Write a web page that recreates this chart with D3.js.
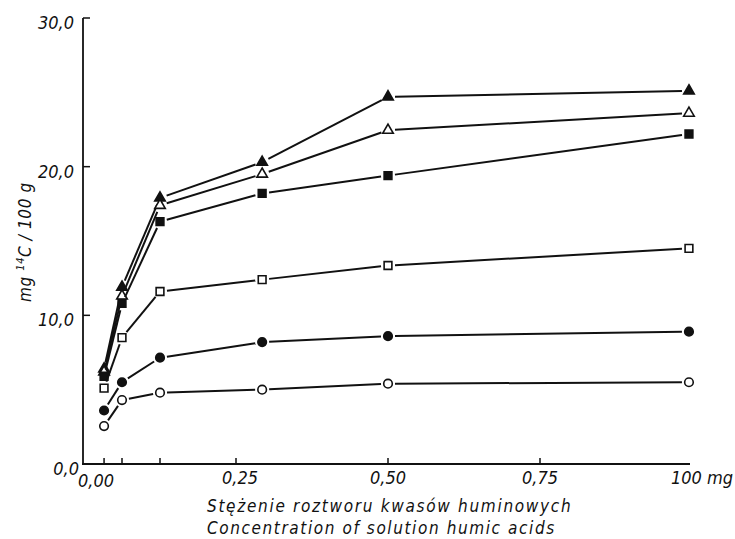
<!DOCTYPE html>
<html>
<head>
<meta charset="utf-8">
<script src="https://cdn.jsdelivr.net/npm/d3@7"></script>
<style>
  body { margin: 0; background: #fff; }
  text { font-family: "DejaVu Sans", sans-serif; font-style: oblique; font-stretch: condensed; fill: #111; }
</style>
</head>
<body>
<div id="chart"></div>
<script>
// concentration of humic acid solution (mg)
const concentrations = [0.033, 0.0625, 0.125, 0.293, 0.5, 0.995];

// mg 14C / 100 g for each series
const filledTriangle = [6.4, 11.9, 17.9, 20.3, 24.7, 25.1];
const openTriangle   = [6.2, 11.3, 17.4, 19.5, 22.45, 23.6];
const filledSquare   = [5.9, 10.8, 16.3, 18.2, 19.4, 22.2];
const openSquare     = [5.1, 8.5, 11.6, 12.4, 13.35, 14.5];
const filledCircle   = [3.6, 5.5, 7.15, 8.2, 8.6, 8.9];
const openCircle     = [2.55, 4.3, 4.8, 5.0, 5.4, 5.5];

const xTicks = [0, 0.25, 0.5, 0.75, 1];
const xTickLabels = ["0,00", "0,25", "0,50", "0,75", "100 mg"];
const yTicks = [0, 10, 20, 30];
const yTickLabels = ["0,0", "10,0", "20,0", "30,0"];

const series = [
    {values: filledTriangle, shape: d3.symbolTriangle, fill: true},
    {values: openTriangle, shape: d3.symbolTriangle, fill: false},
    {values: filledSquare, shape: d3.symbolSquare, fill: true},
    {values: openSquare, shape: d3.symbolSquare, fill: false},
    {values: filledCircle, shape: d3.symbolCircle, fill: true},
    {values: openCircle, shape: d3.symbolCircle, fill: false}
];

const width = 735, height = 539;

const svg = d3.select("#chart").append("svg")
    .attr("width", width)
    .attr("height", height);

const x = d3.scaleLinear().domain([0, 1]).range([84, 692]);
const y = d3.scaleLinear().domain([0, 30]).range([464, 18]);

const axisColor = "#111";

// y axis: vertical line with inward ticks
svg.append("line")
    .attr("x1", x(0) - 1).attr("x2", x(0) - 1)
    .attr("y1", y(0)).attr("y2", y(30))
    .attr("stroke", axisColor).attr("stroke-width", 1.8);

svg.selectAll(".ytick")
    .data(yTicks.slice(1))
    .enter().append("line")
    .attr("x1", x(0) - 1).attr("x2", x(0) + 6)
    .attr("y1", d => y(d)).attr("y2", d => y(d))
    .attr("stroke", axisColor).attr("stroke-width", 1.5);

svg.selectAll(".ylab")
    .data(yTicks)
    .enter().append("text")
    .attr("x", (d, i) => i === 0 ? x(0) - 5 : x(0) - 10)
    .attr("y", d => y(d) + 11)
    .attr("text-anchor", "end")
    .attr("font-size", 18)
    .text((d, i) => yTickLabels[i]);

// x axis
svg.append("line")
    .attr("x1", x(0) - 2).attr("x2", x(1) - 2)
    .attr("y1", y(0)).attr("y2", y(0))
    .attr("stroke", axisColor).attr("stroke-width", 1.8);

svg.selectAll(".xtick")
    .data(xTicks.slice(1, 4).concat(concentrations.slice(0, 3)))
    .enter().append("line")
    .attr("x1", d => x(d)).attr("x2", d => x(d))
    .attr("y1", y(0)).attr("y2", y(0) - 6)
    .attr("stroke", axisColor).attr("stroke-width", 1.5);

svg.selectAll(".xlab")
    .data(xTicks)
    .enter().append("text")
    .attr("x", (d, i) => i === 0 ? x(d) - 6 : i === 4 ? x(d) - 21 : x(d) + (i === 1 ? 4 : 0))
    .attr("y", (d, i) => i === 0 ? 487 : 484)
    .attr("text-anchor", (d, i) => i === 0 ? "start" : i === 4 ? "start" : "middle")
    .attr("font-size", 18)
    .text((d, i) => xTickLabels[i]);

// axis titles
svg.append("text")
    .attr("x", 207).attr("y", 512)
    .attr("font-size", 17)
    .attr("letter-spacing", 1.7)
    .text("Stężenie roztworu kwasów huminowych");

svg.append("text")
    .attr("x", 207).attr("y", 534)
    .attr("font-size", 17)
    .attr("letter-spacing", 1.6)
    .text("Concentration of solution humic acids");

const yTitle = svg.append("text")
    .attr("transform", "translate(31, 302) rotate(-90)")
    .attr("font-size", 17)
    .attr("letter-spacing", 0.6);
yTitle.append("tspan").text("mg ");
yTitle.append("tspan").attr("font-size", 11).attr("dy", -7).text("14");
yTitle.append("tspan").attr("dy", 7).text("C / 100 g");

// series lines, broken just before each marker
const gap = 7;
series.forEach(s => {
    const pts = s.values.map((v, i) => [x(concentrations[i]), y(v)]);
    const segs = d3.pairs(pts).map(([a, b]) => {
        const dx = b[0] - a[0], dy = b[1] - a[1];
        const len = Math.hypot(dx, dy);
        const ux = dx / len, uy = dy / len;
        return [a[0] + ux * gap, a[1] + uy * gap, b[0] - ux * gap, b[1] - uy * gap];
    });
    svg.append("g").selectAll("line")
        .data(segs)
        .enter().append("line")
        .attr("x1", d => d[0]).attr("y1", d => d[1])
        .attr("x2", d => d[2]).attr("y2", d => d[3])
        .attr("stroke", "#111")
        .attr("stroke-width", 2);

    const symbolSize = s.shape === d3.symbolTriangle ? 48 : s.shape === d3.symbolSquare ? 60 : 58;
    svg.append("g").selectAll("path")
        .data(pts)
        .enter().append("path")
        .attr("transform", d => `translate(${d[0]},${d[1]})`)
        .attr("d", d3.symbol().type(s.shape).size(symbolSize))
        .attr("fill", s.fill ? "#111" : "#fff")
        .attr("stroke", "#111")
        .attr("stroke-width", 1.6);
});
</script>
</body>
</html>
